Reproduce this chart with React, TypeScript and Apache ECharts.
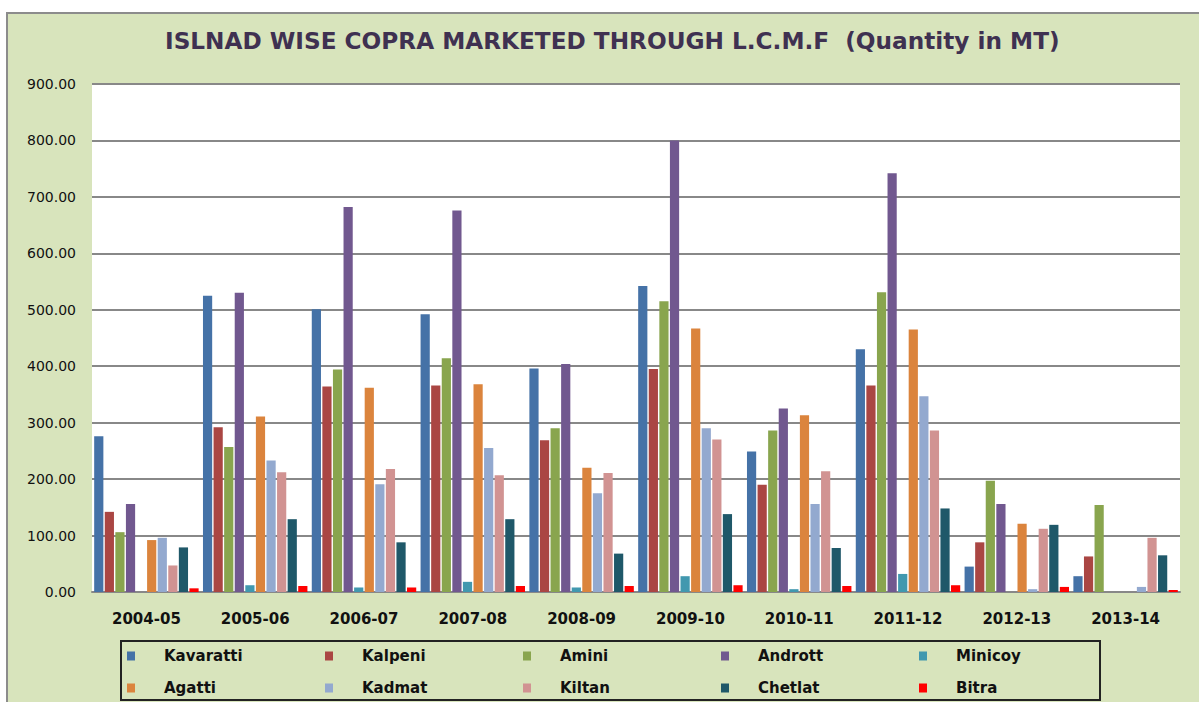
import React, { useEffect, useRef } from "react";
import * as echarts from "echarts";

const years = ["2004-05", "2005-06", "2006-07", "2007-08", "2008-09", "2009-10", "2010-11", "2011-12", "2012-13", "2013-14"];
const islands = ["Kavaratti", "Kalpeni", "Amini", "Andrott", "Minicoy", "Agatti", "Kadmat", "Kiltan", "Chetlat", "Bitra"];
const colors = ["#4572A7", "#AA4643", "#89A54E", "#71588F", "#4198AF", "#DB843D", "#93A9CF", "#D19392", "#1F5869", "#FF0000"];

const kavaratti = [276, 525, 501, 492, 396, 542, 249, 430, 45, 28];
const kalpeni = [142, 292, 364, 366, 269, 395, 190, 366, 88, 63];
const amini = [106, 257, 394, 414, 290, 515, 286, 531, 197, 154];
const andrott = [156, 530, 682, 676, 404, 800, 325, 742, 156, 0];
const minicoy = [0, 12, 8, 18, 8, 28, 5, 32, 0, 0];
const agatti = [92, 311, 362, 368, 220, 467, 313, 465, 121, 0];
const kadmat = [96, 233, 191, 255, 175, 290, 156, 347, 5, 9];
const kiltan = [47, 212, 218, 207, 211, 270, 214, 286, 112, 96];
const chetlat = [79, 129, 88, 129, 68, 138, 78, 148, 119, 65];
const bitra = [6.5, 10.6, 8, 10.6, 10.6, 12, 10.6, 12, 9, 3.5];

const seriesValues = [kavaratti, kalpeni, amini, andrott, minicoy, agatti, kadmat, kiltan, chetlat, bitra];

export default function App() {
  const ref = useRef<HTMLDivElement>(null);
  useEffect(() => {
    if (!ref.current) return;
    const chart = echarts.init(ref.current, null, { renderer: "svg" });
    chart.setOption({
      animation: false,
      backgroundColor: "transparent",
      title: {
        text: "ISLNAD WISE COPRA MARKETED THROUGH L.C.M.F  (Quantity in MT)",
        left: 160,
        top: 24,
        textStyle: { fontFamily: "DejaVu Sans", fontWeight: "bold", fontSize: 23.2, color: "#3F3151" },
      },
      grid: { left: 92, right: 19, top: 84, bottom: 110, show: true, backgroundColor: "#FFFFFF", borderWidth: 0 },
      xAxis: {
        type: "category",
        data: years,
        axisLine: { lineStyle: { color: "#888888", width: 2 } },
        axisTick: { show: false },
        axisLabel: { margin: 19, fontFamily: "DejaVu Sans", fontWeight: "bold", fontSize: 15, color: "#111111" },
      },
      yAxis: {
        type: "value",
        min: 0,
        max: 900,
        interval: 100,
        axisLine: { show: false },
        axisTick: { show: false },
        splitLine: { lineStyle: { color: "#888888", width: 2 } },
        axisLabel: {
          margin: 16,
          fontFamily: "DejaVu Sans",
          fontSize: 14,
          color: "#111111",
          formatter: (v: number) => v.toFixed(2),
        },
      },
      legend: {
        data: islands,
        left: 127,
        top: 640,
        width: 1000,
        padding: 0,
        itemGap: 0,
        itemWidth: 8,
        itemHeight: 9,
        icon: "rect",
        textStyle: {
          fontFamily: "DejaVu Sans",
          fontWeight: "bold",
          fontSize: 15,
          color: "#111111",
          width: 161,
          height: 32,
          lineHeight: 32,
          padding: [0, 0, 0, 24],
        },
      },
      graphic: [
        {
          type: "rect",
          shape: { x: 121, y: 641, width: 979, height: 59 },
          style: { fill: "none", stroke: "#222222", lineWidth: 2 },
          silent: true,
        },
      ],
      series: islands.map((name, i) => ({
        name,
        type: "bar",
        data: seriesValues[i],
        barCategoryGap: "4%",
        barGap: "15%",
        itemStyle: { color: colors[i] },
      })),
    });
    return () => chart.dispose();
  }, []);
  return (
    <div style={{ position: "absolute", left: 0, top: 0, width: 1199, height: 702, background: "#FFFFFF" }}>
      <div
        style={{
          position: "absolute",
          left: 6,
          top: 12,
          width: 1193,
          height: 690,
          background: "#D8E4BC",
          borderTop: "2px solid #8C8C8C",
          borderLeft: "2px solid #8C8C8C",
          boxSizing: "border-box",
        }}
      />
      <div ref={ref} style={{ position: "absolute", left: 0, top: 0, width: 1199, height: 702 }} />
    </div>
  );
}
